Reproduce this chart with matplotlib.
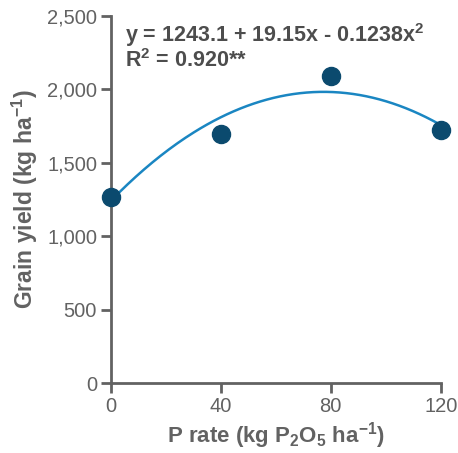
import numpy as np
import matplotlib.pyplot as plt

plt.rcParams['font.family'] = ['Liberation Sans', 'DejaVu Sans']

# Data
p_rate = [0, 40, 80, 120]
grain_yield = [1268, 1697, 2092, 1724]
coefs = [-0.1238, 19.15, 1243.1]  # quadratic fit from the label
x_ticks = [0, 40, 80, 120]
y_ticks = [0, 500, 1000, 1500, 2000, 2500]

grey = "#626262"

fig = plt.figure(figsize=(4.58, 4.53), dpi=100)
ax = fig.add_axes([111 / 458, 1 - 383.3 / 453, (440.7 - 111) / 458, (383.3 - 16) / 453])

xs = np.linspace(0, 120, 200)
ax.plot(xs, np.polyval(coefs, xs), color="#1a86c2", lw=1.8, zorder=2)
ax.plot(p_rate, grain_yield, "o", color="#0b4a6e", ms=13, zorder=3, clip_on=False)

ax.set_xlim(0, 120)
ax.set_ylim(0, 2500)
ax.set_xticks(x_ticks)
ax.set_yticks(y_ticks)
ax.set_yticklabels([f"{v:,}" for v in y_ticks])

for s in ["top", "right"]:
    ax.spines[s].set_visible(False)
for s in ["left", "bottom"]:
    ax.spines[s].set_color(grey)
    ax.spines[s].set_linewidth(2)
ax.tick_params(colors=grey, width=2, length=7, labelsize=14.5, pad=3)

ax.set_xlabel(r"P rate (kg P$_\mathregular{2}$O$_\mathregular{5}$ ha$^\mathregular{-1}$)",
              fontsize=16, fontweight="bold", color=grey, labelpad=3)
ax.set_ylabel(r"Grain yield (kg ha$^\mathregular{-1}$)",
              fontsize=16.5, fontweight="bold", color=grey, labelpad=5)

ax.text(5, 2370, r"y = 1243.1 + 19.15x - 0.1238x$^\mathregular{2}$",
        fontsize=15.5, fontweight="bold", color="#4d4d4d", va="center")
ax.text(5, 2200, r"R$^\mathregular{2}$ = 0.920**",
        fontsize=15.5, fontweight="bold", color="#4d4d4d", va="center")

fig.savefig("out.png", dpi=100)
